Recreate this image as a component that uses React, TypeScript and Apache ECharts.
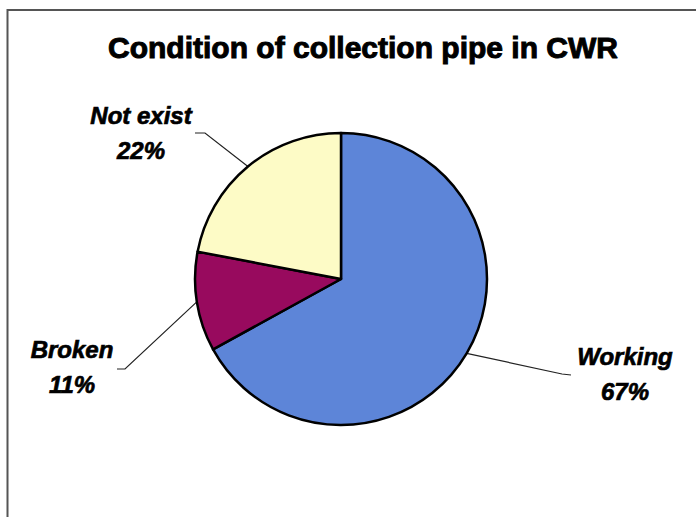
import React, { useEffect, useRef } from "react";
import * as echarts from "echarts";

// Pipe condition shares
const categories = ["Working", "Broken", "Not exist"];
const shares = [67, 11, 22];
const sliceColors = ["#5d85d8", "#980a5e", "#fdfbc6"];

// Where each label block sits and where its leader line bends / ends
const labelCenters: Record<string, [number, number]> = {
  Working: [625, 374],
  Broken: [72, 367],
  "Not exist": [141, 133],
};
const leaderBends: Record<string, [number, number][]> = {
  Working: [
    [562, 374],
    [571, 375],
  ],
  Broken: [
    [125, 369],
    [117, 369],
  ],
  "Not exist": [
    [205, 133],
    [195, 133],
  ],
};

const FONT = '"Liberation Sans", Arial, Helvetica, sans-serif';

export default function App() {
  const ref = useRef<HTMLDivElement>(null);

  useEffect(() => {
    if (!ref.current) return;
    const chart = echarts.init(ref.current, null, { renderer: "svg" });
    chart.setOption({
      animation: false,
      backgroundColor: "#ffffff",
      title: {
        text: "Condition of collection pipe in CWR",
        left: 358,
        top: 27,
        textAlign: "center",
        textStyle: {
          fontFamily: FONT,
          fontWeight: "bold",
          fontSize: 30,
          color: "#000",
          textBorderColor: "#000",
          textBorderWidth: 1,
        },
      },
      graphic: [
        {
          type: "rect",
          shape: { x: 7.5, y: 10, width: 720, height: 540 },
          style: { fill: "none", stroke: "#555", lineWidth: 2 },
          silent: true,
        },
      ],
      series: [
        {
          type: "pie",
          center: [341, 279],
          radius: 146,
          startAngle: 90,
          clockwise: true,
          data: categories.map((name, i) => ({
            name,
            value: shares[i],
            itemStyle: { color: sliceColors[i] },
          })),
          itemStyle: { borderColor: "#000", borderWidth: 2.5 },
          label: {
            show: true,
            formatter: (p: any) => `${p.name}\n${p.value}%`,
            fontFamily: FONT,
            fontWeight: "bold",
            fontStyle: "italic",
            fontSize: 24,
            lineHeight: 35,
            color: "#000",
            textBorderColor: "#000",
            textBorderWidth: 0.7,
            align: "center",
          },
          labelLine: {
            show: true,
            lineStyle: { color: "#222", width: 1.2 },
          },
          labelLayout: (params: any) => {
            const name = categories[params.dataIndex];
            const [cx, cy] = labelCenters[name];
            const start = params.labelLinePoints
              ? params.labelLinePoints[0]
              : [cx, cy];
            return {
              x: cx,
              y: cy,
              align: "center",
              verticalAlign: "middle",
              labelLinePoints: [start, ...leaderBends[name]],
            };
          },
          emphasis: { disabled: true },
        },
      ],
    });
    return () => chart.dispose();
  }, []);

  return (
    <div
      ref={ref}
      style={{ position: "absolute", left: 0, top: 0, width: 696, height: 517 }}
    />
  );
}
